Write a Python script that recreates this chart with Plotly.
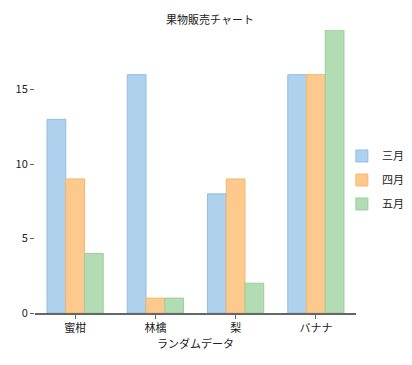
import plotly.graph_objects as go

categories = ["蜜柑", "林檎", "梨", "バナナ"]
series_names = ["三月", "四月", "五月"]
march = [13, 16, 8, 16]
april = [9, 1, 9, 16]
may = [4, 1, 2, 19]
y_ticks = [0, 5, 10, 15]

fills = ["#aed1ee", "#fec98d", "#b3dcb5"]
lines = ["#90bde6", "#f9b56c", "#98cf9b"]

font = "Noto Sans CJK JP, sans-serif"

fig = go.Figure()
for name, vals, fc, lc in zip(series_names, [march, april, may], fills, lines):
    fig.add_trace(go.Bar(x=categories, y=vals, name=name, legendgroup=name,
                         marker=dict(color=fc, line=dict(color=lc, width=1))))

# page body has an 8px margin, so the figure is sized/offset to compensate
fig.update_layout(
    width=404, height=357,
    margin=dict(l=27, r=56, t=22, b=52, autoexpand=False),
    paper_bgcolor="white", plot_bgcolor="white",
    font=dict(family=font, size=11, color="#333333"),
    title=dict(text="果物販売チャート", x=0.5, xanchor="center", y=0.966, yanchor="middle",
               font=dict(size=11, color="#222222", family=font)),
    barmode="group", bargap=0.3, bargroupgap=0,
    legend=dict(x=0.956, xanchor="left", y=0.47, yanchor="middle",
                bgcolor="rgba(0,0,0,0)",
                font=dict(size=11, color="#222222"), tracegroupgap=5,
                itemwidth=30),
    showlegend=True,
)
fig.update_xaxes(showline=True, linecolor="#666666", linewidth=2,
                 ticks="outside", tickcolor="#666666", ticklen=4,
                 title=dict(text="ランダムデータ", font=dict(size=11, color="#222222"), standoff=4),
                 tickfont=dict(size=11, color="#222222"))
fig.update_yaxes(range=[0, 19.0], showgrid=False, zeroline=False, showline=False,
                 tickvals=y_ticks, ticks="outside", tickcolor="#666666", ticklen=4,
                 tickfont=dict(size=11, color="#222222"))

fig.write_html("out.html")
